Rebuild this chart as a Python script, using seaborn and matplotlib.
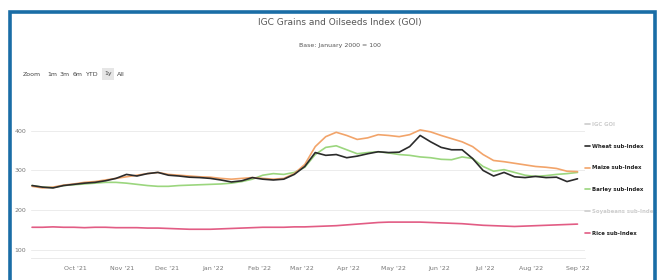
import numpy as np
import pandas as pd
import seaborn as sns
import matplotlib.pyplot as plt
import matplotlib.dates as mdates
from matplotlib.patches import Rectangle
from matplotlib.lines import Line2D

# weekly readings, Sep 2021 - Sep 2022
dates = pd.date_range("2021-09-02", periods=53, freq="7D")

wheat = [262, 258, 256, 262, 265, 268, 270, 274, 280, 290, 286, 292, 295, 288,
         286, 283, 282, 280, 276, 271, 274, 282, 278, 276, 278, 290, 310, 345,
         338, 340, 332, 336, 342, 347, 345, 346, 360, 388, 372, 358, 352, 352,
         330, 300, 286, 295, 284, 282, 285, 282, 283, 272, 279]
maize = [260, 256, 258, 263, 266, 270, 272, 276, 280, 284, 288, 292, 295, 290,
         288, 286, 284, 283, 280, 278, 280, 282, 280, 278, 280, 292, 315, 360,
         385, 396, 388, 378, 382, 390, 388, 385, 390, 402, 397, 388, 380, 372,
         360, 340, 325, 322, 318, 314, 310, 308, 305, 298, 297]
barley = [262, 258, 257, 262, 264, 266, 268, 270, 270, 268, 265, 262, 260, 260,
          262, 263, 264, 265, 266, 268, 272, 278, 288, 292, 290, 295, 308, 340,
          358, 362, 352, 342, 345, 347, 344, 340, 338, 334, 332, 328, 327, 334,
          330, 310, 298, 302, 295, 288, 285, 287, 290, 292, 295]
rice = [157, 157, 158, 157, 157, 156, 157, 157, 156, 156, 156, 155, 155, 154,
        153, 152, 152, 152, 153, 154, 155, 156, 157, 157, 157, 158, 158, 159,
        160, 161, 163, 165, 167, 169, 170, 170, 170, 170, 169, 168, 167, 166,
        164, 162, 161, 160, 159, 160, 161, 162, 163, 164, 165]

legend_names = ["IGC GOI", "Wheat sub-Index", "Maize sub-Index", "Barley sub-Index",
                "Soyabeans sub-Index", "Rice sub-Index"]
yticks = [100, 200, 300, 400]
month_ticks = pd.date_range("2021-10-01", "2022-09-01", freq="MS")

colors = {"Wheat sub-Index": "#2b2b2b", "Maize sub-Index": "#f2a46a",
          "Barley sub-Index": "#9bd67e", "Rice sub-Index": "#e25c84"}

df = pd.concat([
    pd.DataFrame({"date": dates, "value": wheat, "series": "Wheat sub-Index"}),
    pd.DataFrame({"date": dates, "value": maize, "series": "Maize sub-Index"}),
    pd.DataFrame({"date": dates, "value": barley, "series": "Barley sub-Index"}),
    pd.DataFrame({"date": dates, "value": rice, "series": "Rice sub-Index"}),
])

sns.set_style("white")
plt.rcParams["font.family"] = ["DejaVu Sans"]

fig = plt.figure(figsize=(6.64, 2.80), dpi=100)
ax = fig.add_axes([0.046, 0.079, 0.835, 0.582])

sns.lineplot(data=df, x="date", y="value", hue="series", palette=colors,
             hue_order=["Barley sub-Index", "Maize sub-Index", "Wheat sub-Index", "Rice sub-Index"],
             linewidth=1.2, ax=ax, legend=False)

ax.set_ylim(80, 490)
ax.set_yticks(yticks)
ax.set_xlim(pd.Timestamp("2021-09-01"), pd.Timestamp("2022-09-06"))
ax.set_xticks(month_ticks)
ax.xaxis.set_major_formatter(mdates.DateFormatter("%b '%y"))
ax.grid(axis="y", color="#ececec", linewidth=0.7)
ax.tick_params(axis="both", labelsize=4.5, colors="#777", length=0, pad=3)
ax.tick_params(axis="x", pad=6)
ax.set_xlabel("")
ax.set_ylabel("")
for s in ["top", "right", "left"]:
    ax.spines[s].set_visible(False)
ax.spines["bottom"].set_color("#e6e6e6")
ax.spines["bottom"].set_linewidth(0.6)

# titles
fig.text(0.512, 0.92, "IGC Grains and Oilseeds Index (GOI)", ha="center",
         va="center", fontsize=6.5, color="#555")
fig.text(0.512, 0.838, "Base: January 2000 = 100", ha="center", va="center",
         fontsize=4.5, color="#555")

# range selector
btns = ["Zoom", "1m", "3m", "6m", "YTD", "1y", "All"]
bx = [32, 52, 65, 78, 92, 108, 121]
for name, x in zip(btns, bx):
    if name == "1y":
        fig.patches.append(Rectangle(((x - 6) / 664, 1 - 80 / 280), 12 / 664, 12 / 280,
                                     transform=fig.transFigure, facecolor="#e6e6e6",
                                     edgecolor="none"))
    fig.text(x / 664, 1 - 74 / 280, name, ha="center", va="center", fontsize=4.5,
             color="#444")

# legend
handles = []
lcolors = []
for name in legend_names:
    if name in colors:
        handles.append(Line2D([], [], color=colors[name], linewidth=1.2))
        lcolors.append("#222")
    else:
        handles.append(Line2D([], [], color="#cccccc", linewidth=1.2))
        lcolors.append("#cccccc")
leg = fig.legend(handles, legend_names, loc="upper left",
                 bbox_to_anchor=(580 / 664, 1 - 117 / 280), frameon=False,
                 prop={"size": 3.9, "weight": "bold"}, labelcolor=lcolors,
                 handlelength=0.9, handletextpad=0.4, labelspacing=3.1)

# blue frame
fig.patches.append(Rectangle((10 / 664, -0.1), 645 / 664, 1.1 - 12 / 280,
                             transform=fig.transFigure, facecolor="none",
                             edgecolor="#1a6da6", linewidth=2.6, zorder=11))

fig.savefig("out.png", dpi=100)
